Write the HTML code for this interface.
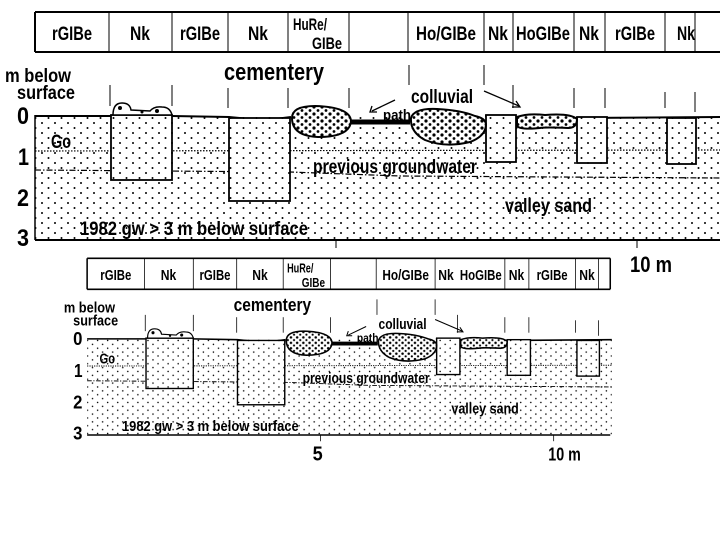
<!DOCTYPE html>
<html><head><meta charset="utf-8"><style>
html,body{margin:0;padding:0;background:#fff;width:720px;height:540px;overflow:hidden}
svg{display:block}
text{font-family:"Liberation Sans",sans-serif;fill:#000;font-weight:bold}
</style></head><body>
<svg width="720" height="540" viewBox="0 0 720 540" xmlns="http://www.w3.org/2000/svg">
<defs>
<pattern id="d1" width="13" height="10" patternUnits="userSpaceOnUse">
<circle cx="3" cy="3" r="1" fill="#000"/><circle cx="9.5" cy="8" r="1" fill="#000"/>
</pattern>
<pattern id="d2" width="8" height="7" patternUnits="userSpaceOnUse">
<circle cx="2" cy="2" r="1.6" fill="#000"/><circle cx="6" cy="5.5" r="1.4" fill="#000"/>
</pattern>
</defs>

<!-- TOP DIAGRAM -->
<g id="top">
<g stroke="#000" fill="none">
<line x1="35" y1="12" x2="720" y2="12" stroke-width="2"/>
<line x1="35" y1="52" x2="720" y2="52" stroke-width="2"/>
<line x1="35" y1="12" x2="35" y2="52" stroke-width="2"/>
<line x1="109" y1="12" x2="109" y2="52"/><line x1="172" y1="12" x2="172" y2="52"/>
<line x1="228" y1="12" x2="228" y2="52"/><line x1="288" y1="12" x2="288" y2="52"/>
<line x1="349" y1="12" x2="349" y2="52"/><line x1="408" y1="12" x2="408" y2="52"/>
<line x1="484" y1="12" x2="484" y2="52"/><line x1="513" y1="12" x2="513" y2="52"/>
<line x1="574" y1="12" x2="574" y2="52"/><line x1="605" y1="12" x2="605" y2="52"/>
<line x1="665" y1="12" x2="665" y2="52"/><line x1="695" y1="12" x2="695" y2="52"/>
</g>
<g font-size="19" text-anchor="middle">
<text x="72" y="40" textLength="40" lengthAdjust="spacingAndGlyphs">rGIBe</text>
<text x="140" y="40" textLength="20" lengthAdjust="spacingAndGlyphs">Nk</text>
<text x="200" y="40" textLength="40" lengthAdjust="spacingAndGlyphs">rGIBe</text>
<text x="258" y="40" textLength="20" lengthAdjust="spacingAndGlyphs">Nk</text>
<text x="310" y="30" textLength="34" lengthAdjust="spacingAndGlyphs" font-size="17">HuRe/</text>
<text x="327" y="49" textLength="30" lengthAdjust="spacingAndGlyphs" font-size="17">GIBe</text>
<text x="446" y="40" textLength="60" lengthAdjust="spacingAndGlyphs">Ho/GIBe</text>
<text x="498" y="40" textLength="20" lengthAdjust="spacingAndGlyphs">Nk</text>
<text x="543" y="40" textLength="54" lengthAdjust="spacingAndGlyphs">HoGIBe</text>
<text x="589" y="40" textLength="20" lengthAdjust="spacingAndGlyphs">Nk</text>
<text x="635" y="40" textLength="40" lengthAdjust="spacingAndGlyphs">rGIBe</text>
<text x="686" y="40" textLength="18" lengthAdjust="spacingAndGlyphs">Nk</text>
</g>
<g stroke="#000" stroke-width="1">
<line x1="110" y1="85" x2="110" y2="106"/><line x1="172" y1="85" x2="172" y2="106"/>
<line x1="228" y1="88" x2="228" y2="108"/><line x1="288" y1="88" x2="288" y2="108"/>
<line x1="349" y1="88" x2="349" y2="108"/><line x1="409" y1="65" x2="409" y2="85"/>
<line x1="484" y1="65" x2="484" y2="85"/><line x1="513" y1="85" x2="513" y2="108"/>
<line x1="574" y1="88" x2="574" y2="108"/><line x1="605" y1="88" x2="605" y2="108"/>
<line x1="665" y1="92" x2="665" y2="108"/><line x1="695" y1="92" x2="695" y2="112"/>
</g>
<path d="M35 115 L720 115 L720 240 L35 240 Z" fill="url(#d1)"/>
<line x1="35" y1="240" x2="720" y2="240" stroke="#000" stroke-width="2"/>
<line x1="35" y1="115" x2="35" y2="240" stroke="#000" stroke-width="1.5"/>
<line x1="336" y1="240" x2="336" y2="248" stroke="#000"/>
<line x1="637" y1="240" x2="637" y2="248" stroke="#000"/>
<line x1="35" y1="151" x2="720" y2="150" stroke="#000" stroke-dasharray="1.5,1.5" stroke-width="1.2"/>
<path d="M35 170 L290 172 L400 176 L720 178" fill="none" stroke="#000" stroke-dasharray="6,2,1.5,2" stroke-width="1.2"/>
<path d="M35 116 L111 116 M172 116 L229 117 L250 119 L262 123 L275 119 L291 117 M350 122 L410 122 M485 116 L516 116 M576 118 L720 117" fill="none" stroke="#000" stroke-width="2"/>
<line x1="350" y1="122" x2="410" y2="122" stroke="#000" stroke-width="5"/>
<g stroke="#000" stroke-width="1.8" fill="#fff">
<rect x="111" y="115" width="61" height="65"/>
<rect x="229" y="118" width="61" height="83"/>
<rect x="486" y="115" width="30" height="47"/>
<rect x="577" y="117" width="30" height="46"/>
<rect x="667" y="118" width="29" height="46"/>
</g>
<g fill="url(#d1)">
<rect x="111" y="115" width="61" height="65"/>
<rect x="229" y="118" width="61" height="83"/>
<rect x="486" y="115" width="30" height="47"/>
<rect x="577" y="117" width="30" height="46"/>
<rect x="667" y="118" width="29" height="46"/>
</g>
<path d="M113 115 Q113 103 122 103 Q130 103 131 110 L150 111 Q154 106 162 107 Q170 107 172 115 Z" stroke="#000" stroke-width="1.5" fill="#fff"/>
<circle cx="120" cy="108" r="2" fill="#000"/><circle cx="157" cy="111" r="2" fill="#000"/><circle cx="142" cy="112" r="1.5" fill="#000"/>
<g stroke="#000" stroke-width="2" fill="#fff">
<path d="M292 118 Q292 106 315 106 Q350 107 351 121 Q350 137 318 137 Q292 136 292 118 Z"/>
<path d="M411 118 Q414 108 437 109 Q460 110 475 116 Q485 118 486 124 Q486 136 470 142 Q445 148 425 140 Q410 132 411 118 Z"/>
<path d="M517 117 Q528 113 545 115 Q570 113 577 119 Q577 128 568 128 Q545 127 540 128 Q520 130 517 126 Z"/>
</g>
<g fill="url(#d2)">
<path d="M292 118 Q292 106 315 106 Q350 107 351 121 Q350 137 318 137 Q292 136 292 118 Z"/>
<path d="M411 118 Q414 108 437 109 Q460 110 475 116 Q485 118 486 124 Q486 136 470 142 Q445 148 425 140 Q410 132 411 118 Z"/>
<path d="M517 117 Q528 113 545 115 Q570 113 577 119 Q577 128 568 128 Q545 127 540 128 Q520 130 517 126 Z"/>
</g>
<g stroke="#000" stroke-width="1.3" fill="none">
<line x1="395" y1="100" x2="372" y2="111"/><path d="M372 106 L370 112 L377 112"/>
<line x1="484" y1="91" x2="519" y2="106"/><path d="M512 107 L520 107 L516 101"/>
</g>
<g font-size="19">
<text x="5" y="82" textLength="66" lengthAdjust="spacingAndGlyphs">m below</text>
<text x="17" y="99" textLength="58" lengthAdjust="spacingAndGlyphs">surface</text>
<text x="17" y="124" font-size="24" textLength="12" lengthAdjust="spacingAndGlyphs">0</text>
<text x="18" y="165" font-size="24" textLength="11" lengthAdjust="spacingAndGlyphs">1</text>
<text x="17" y="206" font-size="24" textLength="12" lengthAdjust="spacingAndGlyphs">2</text>
<text x="17" y="246" font-size="24" textLength="12" lengthAdjust="spacingAndGlyphs">3</text>
<text x="51" y="148" textLength="20" lengthAdjust="spacingAndGlyphs">Go</text>
<text x="224" y="80" font-size="24" textLength="100" lengthAdjust="spacingAndGlyphs">cementery</text>
<text x="411" y="103" textLength="62" lengthAdjust="spacingAndGlyphs">colluvial</text>
<text x="383" y="120" font-size="15" textLength="28" lengthAdjust="spacingAndGlyphs">path</text>
<text x="313" y="173" textLength="164" lengthAdjust="spacingAndGlyphs">previous groundwater</text>
<text x="505" y="212" textLength="87" lengthAdjust="spacingAndGlyphs">valley sand</text>
<text x="80" y="235" textLength="228" lengthAdjust="spacingAndGlyphs">1982  gw &gt; 3 m  below surface</text>
<text x="630" y="272" font-size="22" textLength="42" lengthAdjust="spacingAndGlyphs">10 m</text>
</g>
</g>

<rect x="80" y="255" width="540" height="40" fill="#fff"/>

<!-- BOTTOM DIAGRAM -->
<g transform="translate(60,249) scale(0.775)">
<g stroke="#000" fill="none">
<line x1="35" y1="12" x2="710" y2="12" stroke-width="2"/>
<line x1="35" y1="52" x2="710" y2="52" stroke-width="2"/>
<line x1="35" y1="12" x2="35" y2="52" stroke-width="2"/>
<line x1="710" y1="12" x2="710" y2="52" stroke-width="2"/>
<line x1="109" y1="12" x2="109" y2="52"/><line x1="172" y1="12" x2="172" y2="52"/>
<line x1="228" y1="12" x2="228" y2="52"/><line x1="288" y1="12" x2="288" y2="52"/>
<line x1="349" y1="12" x2="349" y2="52"/><line x1="408" y1="12" x2="408" y2="52"/>
<line x1="484" y1="12" x2="484" y2="52"/><line x1="574" y1="12" x2="574" y2="52"/>
<line x1="605" y1="12" x2="605" y2="52"/><line x1="665" y1="12" x2="665" y2="52"/>
<line x1="695" y1="12" x2="695" y2="52"/>
</g>
<g font-size="19" text-anchor="middle">
<text x="72" y="40" textLength="40" lengthAdjust="spacingAndGlyphs">rGIBe</text>
<text x="140" y="40" textLength="20" lengthAdjust="spacingAndGlyphs">Nk</text>
<text x="200" y="40" textLength="40" lengthAdjust="spacingAndGlyphs">rGIBe</text>
<text x="258" y="40" textLength="20" lengthAdjust="spacingAndGlyphs">Nk</text>
<text x="310" y="30" textLength="34" lengthAdjust="spacingAndGlyphs" font-size="17">HuRe/</text>
<text x="327" y="49" textLength="30" lengthAdjust="spacingAndGlyphs" font-size="17">GIBe</text>
<text x="446" y="40" textLength="60" lengthAdjust="spacingAndGlyphs">Ho/GIBe</text>
<text x="498" y="40" textLength="20" lengthAdjust="spacingAndGlyphs">Nk</text>
<text x="543" y="40" textLength="54" lengthAdjust="spacingAndGlyphs">HoGIBe</text>
<text x="589" y="40" textLength="20" lengthAdjust="spacingAndGlyphs">Nk</text>
<text x="635" y="40" textLength="40" lengthAdjust="spacingAndGlyphs">rGIBe</text>
<text x="680" y="40" textLength="20" lengthAdjust="spacingAndGlyphs">Nk</text>
</g>
<g stroke="#000" stroke-width="1">
<line x1="110" y1="85" x2="110" y2="106"/><line x1="172" y1="85" x2="172" y2="106"/>
<line x1="228" y1="88" x2="228" y2="108"/><line x1="288" y1="88" x2="288" y2="108"/>
<line x1="349" y1="88" x2="349" y2="108"/><line x1="409" y1="65" x2="409" y2="85"/>
<line x1="484" y1="65" x2="484" y2="85"/><line x1="513" y1="85" x2="513" y2="108"/>
<line x1="574" y1="88" x2="574" y2="108"/><line x1="605" y1="88" x2="605" y2="108"/>
<line x1="665" y1="92" x2="665" y2="108"/><line x1="695" y1="92" x2="695" y2="112"/>
</g>
<path d="M35 115 L712 115 L712 240 L35 240 Z" fill="url(#d1)"/>
<line x1="35" y1="240" x2="710" y2="240" stroke="#000" stroke-width="2"/>
<line x1="336" y1="240" x2="336" y2="248" stroke="#000"/>
<line x1="637" y1="240" x2="637" y2="248" stroke="#000"/>
<line x1="35" y1="151" x2="712" y2="150" stroke="#000" stroke-dasharray="1.5,1.5" stroke-width="1.2"/>
<path d="M35 170 L290 172 L400 176 L712 178" fill="none" stroke="#000" stroke-dasharray="6,2,1.5,2" stroke-width="1.2"/>
<path d="M35 116 L111 116 M172 116 L229 117 L250 119 L262 123 L275 119 L291 117 M350 122 L410 122 M485 116 L516 116 M576 118 L712 117" fill="none" stroke="#000" stroke-width="2"/>
<line x1="350" y1="122" x2="410" y2="122" stroke="#000" stroke-width="5"/>
<g stroke="#000" stroke-width="1.8" fill="#fff">
<rect x="111" y="115" width="61" height="65"/>
<rect x="229" y="118" width="61" height="83"/>
<rect x="486" y="115" width="30" height="47"/>
<rect x="577" y="117" width="30" height="46"/>
<rect x="667" y="118" width="29" height="46"/>
</g>
<g fill="url(#d1)">
<rect x="111" y="115" width="61" height="65"/>
<rect x="229" y="118" width="61" height="83"/>
<rect x="486" y="115" width="30" height="47"/>
<rect x="577" y="117" width="30" height="46"/>
<rect x="667" y="118" width="29" height="46"/>
</g>
<path d="M113 115 Q113 103 122 103 Q130 103 131 110 L150 111 Q154 106 162 107 Q170 107 172 115 Z" stroke="#000" stroke-width="1.5" fill="#fff"/>
<circle cx="120" cy="108" r="2" fill="#000"/><circle cx="157" cy="111" r="2" fill="#000"/><circle cx="142" cy="112" r="1.5" fill="#000"/>
<g stroke="#000" stroke-width="2" fill="#fff">
<path d="M292 118 Q292 106 315 106 Q350 107 351 121 Q350 137 318 137 Q292 136 292 118 Z"/>
<path d="M411 118 Q414 108 437 109 Q460 110 475 116 Q485 118 486 124 Q486 136 470 142 Q445 148 425 140 Q410 132 411 118 Z"/>
<path d="M517 117 Q528 113 545 115 Q570 113 577 119 Q577 128 568 128 Q545 127 540 128 Q520 130 517 126 Z"/>
</g>
<g fill="url(#d2)">
<path d="M292 118 Q292 106 315 106 Q350 107 351 121 Q350 137 318 137 Q292 136 292 118 Z"/>
<path d="M411 118 Q414 108 437 109 Q460 110 475 116 Q485 118 486 124 Q486 136 470 142 Q445 148 425 140 Q410 132 411 118 Z"/>
<path d="M517 117 Q528 113 545 115 Q570 113 577 119 Q577 128 568 128 Q545 127 540 128 Q520 130 517 126 Z"/>
</g>
<g stroke="#000" stroke-width="1.3" fill="none">
<line x1="395" y1="100" x2="372" y2="111"/><path d="M372 106 L370 112 L377 112"/>
<line x1="484" y1="91" x2="519" y2="106"/><path d="M512 107 L520 107 L516 101"/>
</g>
<g font-size="19">
<text x="5" y="82" textLength="66" lengthAdjust="spacingAndGlyphs">m below</text>
<text x="17" y="99" textLength="58" lengthAdjust="spacingAndGlyphs">surface</text>
<text x="17" y="124" font-size="24" textLength="12" lengthAdjust="spacingAndGlyphs">0</text>
<text x="18" y="165" font-size="24" textLength="11" lengthAdjust="spacingAndGlyphs">1</text>
<text x="17" y="206" font-size="24" textLength="12" lengthAdjust="spacingAndGlyphs">2</text>
<text x="17" y="246" font-size="24" textLength="12" lengthAdjust="spacingAndGlyphs">3</text>
<text x="51" y="148" textLength="20" lengthAdjust="spacingAndGlyphs">Go</text>
<text x="224" y="80" font-size="24" textLength="100" lengthAdjust="spacingAndGlyphs">cementery</text>
<text x="411" y="103" textLength="62" lengthAdjust="spacingAndGlyphs">colluvial</text>
<text x="383" y="120" font-size="15" textLength="28" lengthAdjust="spacingAndGlyphs">path</text>
<text x="313" y="173" textLength="164" lengthAdjust="spacingAndGlyphs">previous groundwater</text>
<text x="505" y="212" textLength="87" lengthAdjust="spacingAndGlyphs">valley sand</text>
<text x="80" y="235" textLength="228" lengthAdjust="spacingAndGlyphs">1982  gw &gt; 3 m  below surface</text>
<text x="326" y="273" font-size="26" textLength="13" lengthAdjust="spacingAndGlyphs">5</text>
<text x="630" y="273" font-size="24" textLength="42" lengthAdjust="spacingAndGlyphs">10 m</text>
</g>
</g>
</svg>
</body></html>
